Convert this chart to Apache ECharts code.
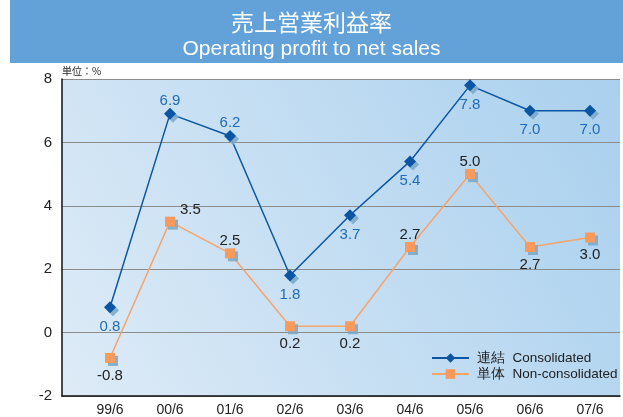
<!DOCTYPE html>
<html>
<head>
<meta charset="utf-8">
<script src="https://cdn.jsdelivr.net/npm/echarts@6/dist/echarts.min.js"></script>
<style>
  html, body { margin: 0; padding: 0; background: #fff; }
  #chart { width: 623px; height: 417px; }
</style>
</head>
<body>
<div id="chart"></div>
<script>
const categories = ['99/6', '00/6', '01/6', '02/6', '03/6', '04/6', '05/6', '06/6', '07/6']
const consolidated = [0.8, 6.9, 6.2, 1.8, 3.7, 5.4, 7.8, 7.0, 7.0]
const nonConsolidated = [-0.8, 3.5, 2.5, 0.2, 0.2, 2.7, 5.0, 2.7, 3.0]
// 标签位置
const consPos = ['bottom', 'top', 'top', 'bottom', 'bottom', 'bottom', 'bottom', 'bottom', 'bottom']
const nonPos = ['bottom', 'right', 'top', 'bottom', 'bottom', 'top', 'top', 'bottom', 'bottom']

const chart = echarts.init(document.getElementById('chart'), null, { renderer: 'canvas' })

const FONT = 'Liberation Sans, Arial, sans-serif'
const markShadow = { shadowColor: 'rgba(125,170,200,0.9)', shadowBlur: 0, shadowOffsetX: 3, shadowOffsetY: 3 }

function toData(values, positions, labelColor, bottomDist) {
  return values.map((v, i) => {
    const pos = positions[i]
    return {
      value: [i, v],
      label: {
        position: pos,
        distance: pos === 'bottom' ? bottomDist : (pos === 'right' ? 5 : 0),
        offset: pos === 'right' ? [0, -12] : [0, 0],
        color: labelColor,
      },
    }
  })
}

const option = {
  backgroundColor: '#fff',
  animation: false,
  graphic: [
    { type: 'rect', left: 10, top: 0, shape: { width: 613, height: 63 }, style: { fill: '#62a2d8' }, z: 0 },
    { type: 'text', left: 'center', top: 11, style: { text: '売上営業利益率', fill: '#fff', font: '23px "Noto Sans CJK JP", sans-serif' }, z: 1 },
    { type: 'text', left: 'center', top: 39, style: { text: 'Operating profit to net sales', fill: '#fff', font: '21px ' + FONT }, z: 1 },
    { type: 'text', left: 62, top: 66, style: { text: '単位：%', fill: '#222', font: '10px "Noto Sans CJK JP", sans-serif' }, z: 1 },
  ],
  grid: {
    left: 62, right: 3, top: 79, bottom: 20,
    show: true,
    borderWidth: 0,
    backgroundColor: new echarts.graphic.LinearGradient(0, 1, 1, 0, [
      { offset: 0, color: '#deebf7' },
      { offset: 1, color: '#a9d0ee' },
    ]),
  },
  legend: {
    left: 431, top: 350, orient: 'vertical', padding: 0,
    itemWidth: 37, itemHeight: 12, itemGap: 0,
    textStyle: { color: '#222', fontSize: 13.5, lineHeight: 16, fontFamily: FONT, padding: [0, 0, 0, 3] },
    data: ['連結  Consolidated', '単体  Non-consolidated'],
  },
  xAxis: {
    type: 'value', min: -0.8, max: 8.5,
    axisLine: { show: true, onZero: false, lineStyle: { color: '#111', width: 1.5 } },
    axisTick: { show: false },
    splitLine: { show: false },
    axisLabel: {
      customValues: categories.map((c, i) => i),
      formatter: (v) => categories[Math.round(v)],
      color: '#222', fontSize: 14, fontFamily: FONT, margin: 7,
    },
  },
  yAxis: {
    type: 'value', min: -2, max: 8, interval: 2,
    axisLine: { show: true, onZero: false, lineStyle: { color: '#111', width: 1.5 } },
    axisTick: { show: false },
    splitLine: { lineStyle: { color: '#8c8c8c', width: 1.2 } },
    axisLabel: { color: '#222', fontSize: 15, fontFamily: FONT, margin: 10 },
  },
  series: [
    {
      name: '単体  Non-consolidated', type: 'line',
      data: toData(nonConsolidated, nonPos, '#222', 5),
      symbol: 'rect', symbolSize: 10,
      lineStyle: { color: '#f5a46c', width: 1.5 },
      itemStyle: Object.assign({ color: '#f79a5c' }, markShadow),
      label: { show: true, fontSize: 15, fontFamily: FONT, formatter: (p) => p.value[1].toFixed(1) },
      z: 2,
    },
    {
      name: '連結  Consolidated', type: 'line',
      data: toData(consolidated, consPos, '#1f6bb8', 6),
      symbol: 'diamond', symbolSize: 12,
      lineStyle: { color: '#0a56a4', width: 1.5 },
      itemStyle: Object.assign({ color: '#0a56a4' }, markShadow),
      label: { show: true, fontSize: 15, fontFamily: FONT, formatter: (p) => p.value[1].toFixed(1) },
      z: 3,
    },
  ],
}

chart.setOption(option)
</script>
</body>
</html>
